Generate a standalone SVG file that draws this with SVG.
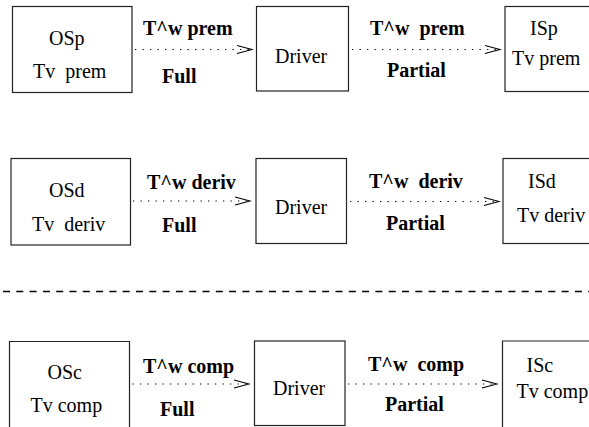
<svg xmlns="http://www.w3.org/2000/svg" width="589" height="427" viewBox="0 0 589 427">
  <style>
    .box { fill: none; stroke: #222; stroke-width: 1.2; }
    .t { font-family: "Liberation Serif", "Times New Roman", serif; font-size: 20px; fill: #000; white-space: pre; }
    .b { font-family: "Liberation Serif", "Times New Roman", serif; font-size: 20px; font-weight: bold; fill: #000; white-space: pre; }
    .flow { stroke: #000; stroke-width: 1.1; stroke-dasharray: 1.3 6.2; fill: none; }
    .head { stroke: #000; stroke-width: 1.1; fill: none; }
    .sep { stroke: #000; stroke-width: 1.3; stroke-dasharray: 7 6.3; }
  </style>
  <defs>
    <marker id="open-arrow" markerWidth="18" markerHeight="12" refX="16" refY="6" orient="auto" markerUnits="userSpaceOnUse">
      <polyline points="1,2 16,6 1,10" class="head"/>
    </marker>
  </defs>

  <!-- premium row -->
  <g id="OSp">
    <rect class="box" x="12.5" y="6.5" width="119.5" height="86"/>
    <text class="t" x="49" y="45">OSp</text>
    <text class="t" x="33" y="78">Tv&#160; prem</text>
  </g>
  <g id="Driver-prem">
    <rect class="box" x="256.5" y="6.5" width="92" height="84.5"/>
    <text class="t" x="275" y="63">Driver</text>
  </g>
  <g id="ISp">
    <rect class="box" x="505" y="6.5" width="100" height="85"/>
    <text class="t" x="530" y="35">ISp</text>
    <text class="t" x="512" y="65">Tv prem</text>
  </g>

  <!-- derivative row -->
  <g id="OSd">
    <rect class="box" x="11" y="158.5" width="119.5" height="86.5"/>
    <text class="t" x="49" y="196.5">OSd</text>
    <text class="t" x="32" y="230.5">Tv&#160; deriv</text>
  </g>
  <g id="Driver-deriv">
    <rect class="box" x="256" y="158.5" width="90.5" height="85"/>
    <text class="t" x="275" y="214">Driver</text>
  </g>
  <g id="ISd">
    <rect class="box" x="503" y="158.5" width="100" height="85"/>
    <text class="t" x="528" y="187.5">ISd</text>
    <text class="t" x="517" y="221.5">Tv deriv</text>
  </g>

  <!-- separator -->
  <line class="sep" x1="3" y1="291.5" x2="589" y2="291.5"/>

  <!-- composite row -->
  <g id="OSc">
    <polyline class="box" points="9.5,440 9.5,341.5 129.5,341.5 129.5,440"/>
    <text class="t" x="47.5" y="379">OSc</text>
    <text class="t" x="30.5" y="412">Tv comp</text>
  </g>
  <g id="Driver-comp">
    <rect class="box" x="254.5" y="341" width="90.5" height="84.5"/>
    <text class="t" x="273" y="395">Driver</text>
  </g>
  <g id="ISc">
    <polyline class="box" points="502.5,440 502.5,341 605,341"/>
    <text class="t" x="526.5" y="371.5">ISc</text>
    <text class="t" x="516.5" y="398">Tv comp</text>
  </g>

  <!-- connectors -->
  <g id="connectors">
    <line class="flow" x1="135" y1="49.5" x2="252" y2="49.5" marker-end="url(#open-arrow)"/>
    <line class="flow" x1="352" y1="49.5" x2="500" y2="49.5" marker-end="url(#open-arrow)"/>
    <line class="flow" x1="133" y1="201" x2="250" y2="201" marker-end="url(#open-arrow)"/>
    <line class="flow" x1="350" y1="201.5" x2="499" y2="201.5" marker-end="url(#open-arrow)"/>
    <line class="flow" x1="132.5" y1="384" x2="249" y2="384" marker-end="url(#open-arrow)"/>
    <line class="flow" x1="348" y1="384" x2="497" y2="384" marker-end="url(#open-arrow)"/>

    <text class="b" x="143" y="35">T^w prem</text>
    <text class="b" x="162" y="83">Full</text>
    <text class="b" x="370" y="35">T^w&#160; prem</text>
    <text class="b" x="387" y="77">Partial</text>

    <text class="b" x="147" y="189">T^w deriv</text>
    <text class="b" x="162" y="232">Full</text>
    <text class="b" x="369" y="188">T^w&#160; deriv</text>
    <text class="b" x="386" y="230">Partial</text>

    <text class="b" x="143" y="372.5">T^w comp</text>
    <text class="b" x="160" y="416">Full</text>
    <text class="b" x="368" y="370.5">T^w&#160; comp</text>
    <text class="b" x="385" y="411">Partial</text>
  </g>
</svg>
